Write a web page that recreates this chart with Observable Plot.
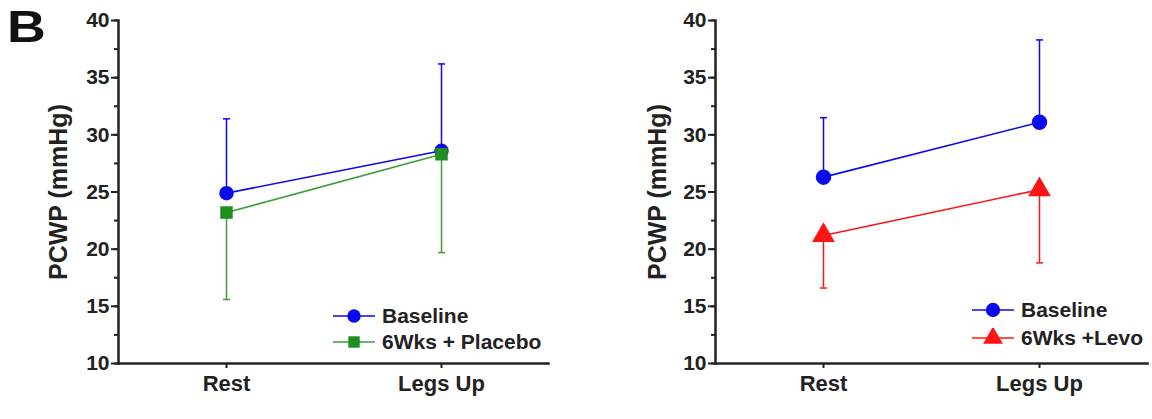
<!DOCTYPE html>
<html>
<head>
<meta charset="utf-8">
<script src="https://cdn.jsdelivr.net/npm/d3@7"></script>
<script src="https://cdn.jsdelivr.net/npm/@observablehq/plot@0.6"></script>
<style>
  html, body { margin: 0; padding: 0; background: #fff; }
  #wrap { position: relative; width: 1152px; height: 419px; font-family: "Liberation Sans", Arial, sans-serif; }
  .panel { position: absolute; top: 0; }
  .panel svg { overflow: visible; }
  .panel-label { position: absolute; left: 7px; top: 5px; font-size: 44px; font-weight: bold; line-height: 1; color: #111; transform: scaleX(1.22); transform-origin: left top; }
  .legend { position: absolute; font-size: 21px; font-weight: bold; color: #222; }
  .legend .row { display: flex; align-items: center; }
  .legend svg { margin-right: 5px; }
</style>
</head>
<body>
<div id="wrap"></div>
<script>
// ---- data ----
const categories = ["Rest", "Legs Up"];
const yTicks = [10, 15, 20, 25, 30, 35, 40];

// Left panel: Baseline vs 6Wks + Placebo
const leftSeries = ["Baseline", "6Wks + Placebo"];
const leftBaseline = [24.9, 28.6];
const leftBaselineErr = [31.4, 36.2];   // upper error bar end
const leftPlacebo = [23.2, 28.3];
const leftPlaceboErr = [15.6, 19.7];    // lower error bar end

// Right panel: Baseline vs 6Wks +Levo
const rightSeries = ["Baseline", "6Wks +Levo"];
const rightBaseline = [26.3, 31.1];
const rightBaselineErr = [31.5, 38.3];
const rightLevo = [21.2, 25.2];
const rightLevoErr = [16.6, 18.8];

const yLabel = "PCWP (mmHg)";
const panelLetter = "B";

// ---- style ----
const BLUE = "#0a0aee";
const GREEN = "#1e8e1e";
const GREEN_LINE = "#3a9e3a";
const RED = "#ff1414";
const AXIS = "#222";
const FONT = "'Liberation Sans', Arial, sans-serif";

const capSymbol = {
  draw(ctx, size) {
    const r = Math.sqrt(size / Math.PI);
    ctx.moveTo(-r, 0); ctx.lineTo(r, 0);
  }
};

function rows(vals, errs, name) {
  return categories.map((c, i) => ({cat: c, v: vals[i], e: errs[i], s: name}));
}

function makePanel(a, b, opts) {
  const minor = d3.range(10, 40.01, 2.5);
  return Plot.plot({
    width: opts.width,
    height: 419,
    marginLeft: opts.marginLeft,
    marginRight: opts.marginRight,
    marginTop: 20,
    marginBottom: 56,
    style: {fontFamily: FONT, fontWeight: "bold", fontSize: "21px", color: AXIS, background: "transparent"},
    x: {type: "point", domain: categories, padding: 0.5},
    y: {domain: [10, 40]},
    marks: [
      // error bars
      Plot.ruleX(a.data, {x: "cat", y1: "v", y2: "e", stroke: a.color, strokeWidth: 1.5}),
      Plot.ruleX(b.data, {x: "cat", y1: "v", y2: "e", stroke: b.lineColor || b.color, strokeWidth: 1.5}),
      Plot.dot(a.data, {x: "cat", y: "e", symbol: capSymbol, r: 3.5, stroke: a.color, strokeWidth: 1.5}),
      Plot.dot(b.data, {x: "cat", y: "e", symbol: capSymbol, r: 3.5, stroke: b.lineColor || b.color, strokeWidth: 1.5}),
      // lines
      Plot.line(a.data, {x: "cat", y: "v", stroke: a.color, strokeWidth: 1.6}),
      Plot.line(b.data, {x: "cat", y: "v", stroke: b.lineColor || b.color, strokeWidth: 1.6}),
      // markers
      Plot.dot(a.data, {x: "cat", y: "v", symbol: a.symbol, r: a.r, fill: a.color, stroke: a.color}),
      Plot.dot(b.data, {x: "cat", y: "v", symbol: b.symbol, r: b.r, fill: b.color, stroke: b.color}),
      // axes
      Plot.axisY({ticks: minor, tickSize: 4, text: null, stroke: AXIS, strokeWidth: 2, strokeOpacity: 1}),
      Plot.axisY({ticks: yTicks, tickSize: 7, tickPadding: 2, stroke: AXIS, strokeWidth: 2, strokeOpacity: 1, label: null, fill: AXIS, fontSize: 21, fontWeight: "bold"}),
      Plot.axisX({tickSize: 5, tickPadding: 7, stroke: AXIS, strokeWidth: 2, strokeOpacity: 1, label: null, fill: AXIS, fontSize: 22, fontWeight: "bold"}),
      Plot.frame({anchor: "left", stroke: AXIS, strokeWidth: 2.5}),
      Plot.frame({anchor: "bottom", stroke: AXIS, strokeWidth: 2.5}),
      Plot.text([yLabel], {frameAnchor: "left", textAnchor: "middle", rotate: -90, dx: -opts.labelDx, fontSize: 25, fontWeight: "bold", fill: AXIS})
    ]
  });
}

function legendHTML(items, rowHeight) {
  const div = document.createElement("div");
  div.className = "legend";
  for (const it of items) {
    const row = document.createElement("div");
    row.className = "row";
    row.style.height = rowHeight + "px";
    const ns = "http://www.w3.org/2000/svg";
    const svg = document.createElementNS(ns, "svg");
    svg.setAttribute("width", 44); svg.setAttribute("height", 20);
    const line = document.createElementNS(ns, "line");
    line.setAttribute("x1", 0); line.setAttribute("x2", 42); line.setAttribute("y1", 10); line.setAttribute("y2", 10);
    line.setAttribute("stroke", it.lineColor || it.color); line.setAttribute("stroke-width", 1.6);
    svg.appendChild(line);
    const path = document.createElementNS(ns, "path");
    path.setAttribute("d", d3.symbol(it.d3symbol, it.size)());
    path.setAttribute("transform", "translate(21,10)");
    path.setAttribute("fill", it.color);
    svg.appendChild(path);
    row.appendChild(svg);
    const t = document.createElement("span");
    t.textContent = it.name;
    row.appendChild(t);
    div.appendChild(row);
  }
  return div;
}

const wrap = document.getElementById("wrap");

const left = makePanel(
  {data: rows(leftBaseline, leftBaselineErr, leftSeries[0]), color: BLUE, symbol: "circle", r: 6.5},
  {data: rows(leftPlacebo, leftPlaceboErr, leftSeries[1]), color: GREEN, lineColor: GREEN_LINE, symbol: "square", r: 6.2},
  {width: 576, marginLeft: 118, marginRight: 28, labelDx: 60}
);
const lp = document.createElement("div");
lp.className = "panel"; lp.style.left = "0px";
lp.appendChild(left);
wrap.appendChild(lp);

const right = makePanel(
  {data: rows(rightBaseline, rightBaselineErr, rightSeries[0]), color: BLUE, symbol: "circle", r: 7},
  {data: rows(rightLevo, rightLevoErr, rightSeries[1]), color: RED, symbol: "triangle", r: 7.5},
  {width: 576, marginLeft: 139, marginRight: 5, labelDx: 58}
);
const rp = document.createElement("div");
rp.className = "panel"; rp.style.left = "576px";
rp.appendChild(right);
wrap.appendChild(rp);

const lbl = document.createElement("div");
lbl.className = "panel-label";
lbl.textContent = panelLetter;
wrap.appendChild(lbl);

const legL = legendHTML([
  {name: leftSeries[0], color: BLUE, d3symbol: d3.symbolCircle, size: 140},
  {name: leftSeries[1], color: GREEN, lineColor: GREEN_LINE, d3symbol: d3.symbolSquare, size: 130}
], 26);
legL.style.left = "333px"; legL.style.top = "303px";
wrap.appendChild(legL);

const legR = legendHTML([
  {name: rightSeries[0], color: BLUE, d3symbol: d3.symbolCircle, size: 160},
  {name: rightSeries[1], color: RED, d3symbol: d3.symbolTriangle, size: 170}
], 28);
legR.style.left = "972px"; legR.style.top = "296px";
wrap.appendChild(legR);
</script>
</body>
</html>
